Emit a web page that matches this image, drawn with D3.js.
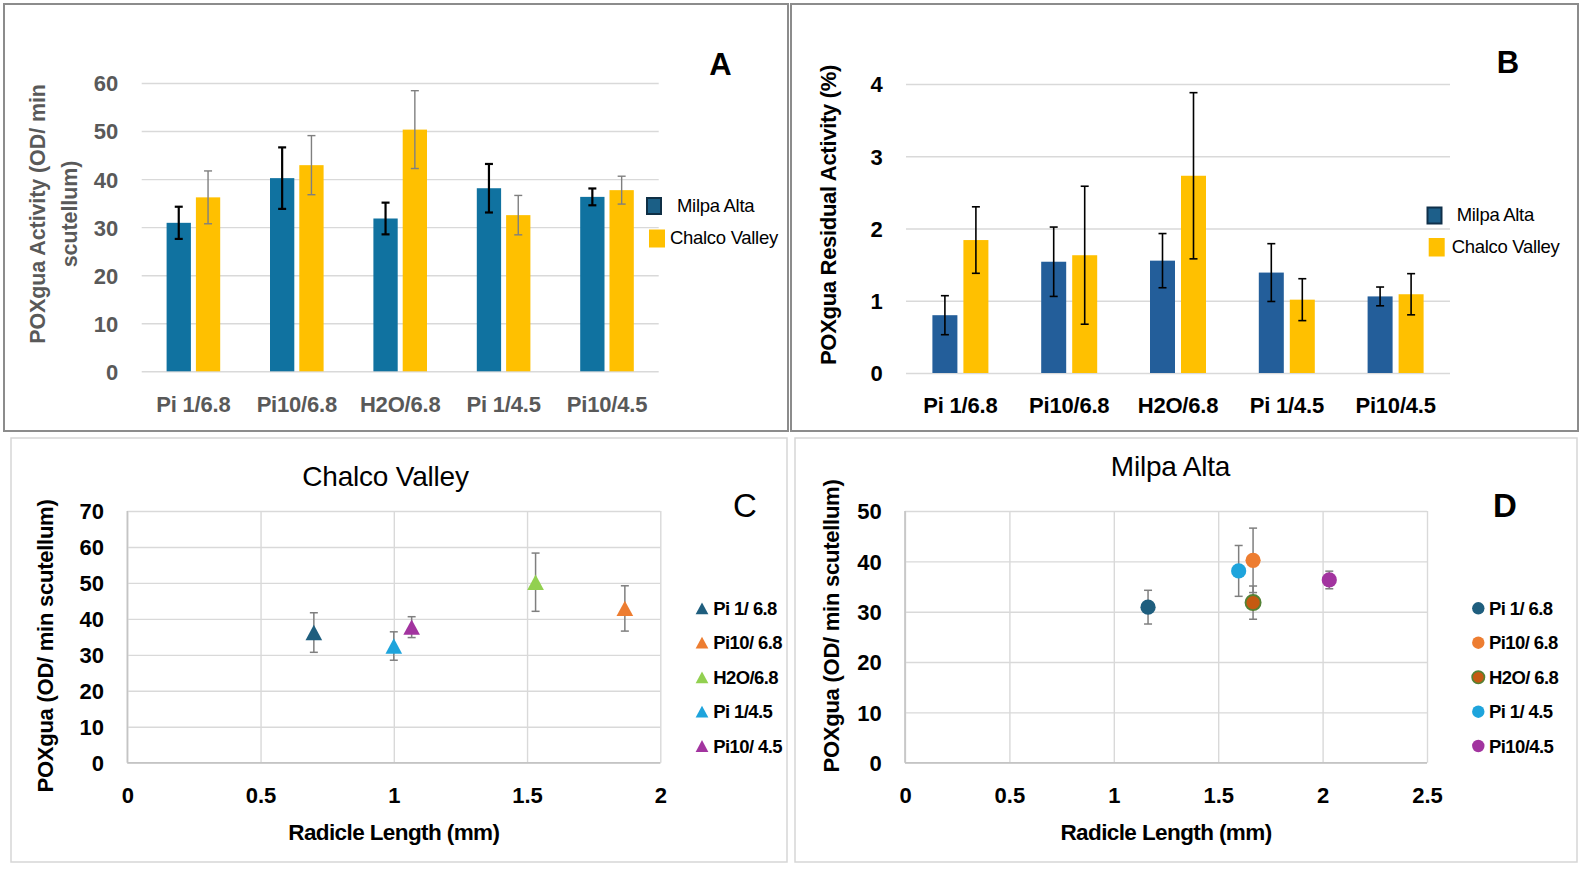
<!DOCTYPE html>
<html><head><meta charset="utf-8">
<script src="https://cdn.jsdelivr.net/npm/d3@7"></script>
<style>
body{margin:0;background:#fff}
svg{display:block}
text{font-family:"Liberation Sans",Arial,Helvetica,sans-serif}
</style>
</head><body>
<svg id="chart" width="1587" height="875"></svg>
<script>
// ---------- data ----------
const categories = ["Pi 1/6.8", "Pi10/6.8", "H2O/6.8", "Pi 1/4.5", "Pi10/4.5"];
const seriesNames = ["Milpa Alta", "Chalco Valley"];

// Panel A: POXgua activity (OD/min scutellum)
const actMilpa     = [30.9, 40.2, 31.8, 38.1, 36.3];
const actMilpaErr  = [3.35, 6.4, 3.3, 5.05, 1.75];
const actChalco    = [36.2, 42.9, 50.3, 32.5, 37.7];
const actChalcoErr = [5.5, 6.15, 8.1, 4.1, 2.9];
const actTicks = [0, 10, 20, 30, 40, 50, 60];

// Panel B: POXgua residual activity (%)
const resMilpa     = [0.80, 1.54, 1.555, 1.39, 1.06];
const resMilpaErr  = [0.27, 0.48, 0.375, 0.40, 0.13];
const resChalco    = [1.84, 1.63, 2.73, 1.015, 1.09];
const resChalcoErr = [0.46, 0.955, 1.15, 0.29, 0.285];
const resTicks = [0, 1, 2, 3, 4];

// Panel C: Chalco Valley scatter
const chalcoNames  = ["Pi 1/ 6.8", "Pi10/ 6.8", "H2O/6.8", "Pi 1/4.5", "Pi10/ 4.5"];
const chalcoX      = [0.70, 1.867, 1.532, 1.00, 1.067];
const chalcoY      = [36.2, 42.9, 50.2, 32.45, 37.7];
const chalcoErr    = [5.5, 6.3, 8.1, 3.95, 2.9];
const chalcoColors = ["#1f5e7e", "#ed7d31", "#92d050", "#1ea4dc", "#a2349f"];
const cXTicks = [0, 0.5, 1, 1.5, 2];
const cYTicks = [0, 10, 20, 30, 40, 50, 60, 70];

// Panel D: Milpa Alta scatter
const milpaNames   = ["Pi 1/ 6.8", "Pi10/ 6.8", "H2O/ 6.8", "Pi 1/ 4.5", "Pi10/4.5"];
const milpaX       = [1.164, 1.667, 1.667, 1.598, 2.032];
const milpaY       = [30.9, 40.2, 31.8, 38.1, 36.3];
const milpaErr     = [3.35, 6.4, 3.3, 5.05, 1.75];
const milpaColors  = ["#1f5e7e", "#ed7d31", "#c55a11", "#1ea4dc", "#a2349f"];
const milpaStroke  = [null, null, "#548235", null, null];
const dXTicks = [0, 0.5, 1, 1.5, 2, 2.5];
const dYTicks = [0, 10, 20, 30, 40, 50];

// ---------- drawing ----------
const svg = d3.select("#chart");
svg.append("rect").attr("width", 1587).attr("height", 875).attr("fill", "#fff");

// panel frames
const frames = [
  {x: 4, y: 4, w: 784, h: 427, c: "#8c8c8c", sw: 2},
  {x: 791, y: 4, w: 787, h: 427, c: "#8c8c8c", sw: 2},
  {x: 11, y: 438, w: 776, h: 424, c: "#d6d6d6", sw: 1.5},
  {x: 795, y: 438, w: 782, h: 424, c: "#d6d6d6", sw: 1.5}
];
svg.selectAll("rect.frame").data(frames).enter().append("rect")
  .attr("class", "frame")
  .attr("x", d => d.x).attr("y", d => d.y).attr("width", d => d.w).attr("height", d => d.h)
  .attr("fill", "none").attr("stroke", d => d.c).attr("stroke-width", d => d.sw);

function styleText(sel, size, weight, color, ls) {
  sel.style("font-family", '"Liberation Sans",Arial,sans-serif')
     .style("font-size", size + "px")
     .style("font-weight", weight)
     .style("letter-spacing", (ls || 0) + "px")
     .attr("fill", color);
}

function errorBars(g, xs, ys, es, color, width, cap) {
  const gg = g.append("g").attr("stroke", color).attr("stroke-width", width).attr("fill", "none");
  xs.forEach((x, i) => {
    gg.append("line").attr("x1", x).attr("x2", x).attr("y1", ys(i, -1)).attr("y2", ys(i, 1));
    gg.append("line").attr("x1", x - cap / 2).attr("x2", x + cap / 2).attr("y1", ys(i, -1)).attr("y2", ys(i, -1));
    gg.append("line").attr("x1", x - cap / 2).attr("x2", x + cap / 2).attr("y1", ys(i, 1)).attr("y2", ys(i, 1));
  });
}

function barPanel(cfg) {
  const g = svg.append("g");
  const y = d3.scaleLinear().domain([0, cfg.max]).range([cfg.bottom, cfg.top]);
  const x = d3.scaleBand().domain(categories).range([cfg.left, cfg.right]);
  const pairW = cfg.barW * 2 + cfg.gap;
  const xs = d3.scaleBand().domain(seriesNames).range([-pairW / 2, pairW / 2])
    .paddingInner(cfg.gap / (cfg.barW + cfg.gap));

  const ya = g.append("g").attr("transform", `translate(${cfg.left},0)`)
    .call(d3.axisLeft(y).tickValues(cfg.ticks).tickFormat(d => String(d))
      .tickSize(-(cfg.right - cfg.left)).tickPadding(cfg.tickPad));
  ya.select(".domain").remove();
  ya.selectAll("line").attr("stroke", "#d9d9d9").attr("stroke-width", 1.4);
  styleText(ya.selectAll("text").attr("dy", "0.36em"), 22, "bold", cfg.tickColor);

  const xa = g.append("g").attr("transform", `translate(0,${cfg.bottom})`)
    .call(d3.axisBottom(x).tickSize(0));
  xa.select(".domain").remove();
  styleText(xa.selectAll("text").attr("dy", null).attr("y", cfg.labelBase - cfg.bottom), 22, "bold", cfg.tickColor, -0.2);

  cfg.series.forEach((s, si) => {
    const off = xs(seriesNames[si]);
    g.append("g").selectAll("rect").data(categories).enter().append("rect")
      .attr("x", c => x(c) + x.bandwidth() / 2 + off)
      .attr("y", (c, i) => y(s.vals[i]))
      .attr("width", xs.bandwidth())
      .attr("height", (c, i) => y(0) - y(s.vals[i]))
      .attr("fill", s.color);
  });
  cfg.series.forEach((s, si) => {
    const off = xs(seriesNames[si]) + xs.bandwidth() / 2;
    const cx = categories.map(c => x(c) + x.bandwidth() / 2 + off);
    errorBars(g, cx, (i, k) => y(s.vals[i] + k * s.errs[i]), s.errs, s.errColor, s.errW, 8);
  });

  // legend
  cfg.legend.forEach((L, i) => {
    g.append("rect").attr("x", L.sx).attr("y", L.sy).attr("width", L.sw).attr("height", L.sh)
      .attr("fill", L.color).attr("stroke", L.stroke || "none").attr("stroke-width", L.stroke ? 2 : 0);
    styleText(g.append("text").attr("x", L.tx).attr("y", L.ty).attr("dy", "0.35em").text(seriesNames[i]), 18.5, "normal", "#000", -0.3);
  });
  return g;
}

// Panel A
const gA = barPanel({
  left: 141.7, right: 658.7, top: 83, bottom: 371.3, max: 60, ticks: actTicks,
  tickPad: 23.4, tickColor: "#595959", labelBase: 412, barW: 24.3, gap: 5,
  series: [
    {vals: actMilpa, errs: actMilpaErr, color: "#1072a0", errColor: "#000", errW: 2.2},
    {vals: actChalco, errs: actChalcoErr, color: "#ffc000", errColor: "#7f7f7f", errW: 1.4}
  ],
  legend: [
    {sx: 647, sy: 198, sw: 14, sh: 16, color: "#1b5f86", stroke: "#0f2f45", tx: 677, ty: 205.5},
    {sx: 649, sy: 229.5, sw: 16, sh: 18, color: "#ffc000", tx: 670, ty: 237.5}
  ]
});
styleText(gA.append("text").attr("transform", "translate(45,214) rotate(-90)").attr("text-anchor", "middle")
  .text("POXgua Activity (OD/ min"), 21.5, "bold", "#595959", -0.1);
styleText(gA.append("text").attr("transform", "translate(77,214) rotate(-90)").attr("text-anchor", "middle")
  .text("scutellum)"), 21.5, "bold", "#595959", -0.1);
styleText(gA.append("text").attr("x", 720.5).attr("y", 75).attr("text-anchor", "middle").text("A"), 31, "bold", "#000");

// Panel B
const gB = barPanel({
  left: 906, right: 1450, top: 84, bottom: 373, max: 4, ticks: resTicks,
  tickPad: 23.3, tickColor: "#000", labelBase: 413, barW: 25, gap: 6,
  series: [
    {vals: resMilpa, errs: resMilpaErr, color: "#235e9a", errColor: "#000", errW: 1.6},
    {vals: resChalco, errs: resChalcoErr, color: "#ffc000", errColor: "#000", errW: 1.6}
  ],
  legend: [
    {sx: 1427.5, sy: 207.5, sw: 14, sh: 16, color: "#1d5f8a", stroke: "#10304a", tx: 1456.7, ty: 215},
    {sx: 1428.7, sy: 238, sw: 16, sh: 18.5, color: "#ffc000", tx: 1451.7, ty: 246.7}
  ]
});
styleText(gB.append("text").attr("transform", "translate(836,215) rotate(-90)").attr("text-anchor", "middle")
  .text("POXgua Residual Activity (%)"), 22, "bold", "#000", -0.3);
styleText(gB.append("text").attr("x", 1508).attr("y", 73.3).attr("text-anchor", "middle").text("B"), 31, "bold", "#000");

// scatter panels
const triangleType = {
  draw(ctx, size) {
    const w = Math.sqrt(size);
    ctx.moveTo(0, -w * 0.48);
    ctx.lineTo(w * 0.52, w * 0.48);
    ctx.lineTo(-w * 0.52, w * 0.48);
    ctx.closePath();
  }
};

function scatterPanel(cfg) {
  const g = svg.append("g");
  const x = d3.scaleLinear().domain([0, cfg.xMax]).range([cfg.left, cfg.right]);
  const y = d3.scaleLinear().domain([0, cfg.yMax]).range([cfg.bottom, cfg.top]);

  const xa = g.append("g").attr("transform", `translate(0,${cfg.bottom})`)
    .call(d3.axisBottom(x).tickValues(cfg.xTicks).tickSize(-(cfg.bottom - cfg.top)).tickFormat(d => String(d)));
  xa.select(".domain").remove();
  xa.selectAll("line").attr("stroke", "#d9d9d9").attr("stroke-width", 1.4);
  styleText(xa.selectAll("text").attr("dy", null).attr("y", cfg.xLabelBase - cfg.bottom), 22, "bold", "#000");

  const ya = g.append("g").attr("transform", `translate(${cfg.left},0)`)
    .call(d3.axisLeft(y).tickValues(cfg.yTicks).tickFormat(d => String(d))
      .tickSize(-(cfg.right - cfg.left)).tickPadding(23.3));
  ya.select(".domain").remove();
  ya.selectAll("line").attr("stroke", "#d9d9d9").attr("stroke-width", 1.4);
  styleText(ya.selectAll("text").attr("dy", "0.36em"), 22, "bold", "#000");

  // axis lines (slightly darker)
  g.append("line").attr("x1", x(0)).attr("x2", x(cfg.xMax)).attr("y1", y(0)).attr("y2", y(0))
    .attr("stroke", "#c4c4c4").attr("stroke-width", 1.6);
  g.append("line").attr("x1", x(0)).attr("x2", x(0)).attr("y1", y(0)).attr("y2", y(cfg.yMax))
    .attr("stroke", "#c4c4c4").attr("stroke-width", 1.6);

  // error bars
  errorBars(g, cfg.xs.map(v => x(v)), (i, k) => y(cfg.ys[i] + k * cfg.errs[i]), cfg.errs, "#7f7f7f", 1.5, 8);

  // markers
  const sym = d3.symbol().type(cfg.shape === "tri" ? triangleType : d3.symbolCircle);
  g.append("g").selectAll("path").data(cfg.xs).enter().append("path")
    .attr("transform", (d, i) => `translate(${x(d)},${y(cfg.ys[i])})`)
    .attr("d", sym.size(cfg.shape === "tri" ? 256 : Math.PI * 7.6 * 7.6)())
    .attr("fill", (d, i) => cfg.colors[i])
    .attr("stroke", (d, i) => (cfg.strokes && cfg.strokes[i]) || "none")
    .attr("stroke-width", 1.8);

  // legend
  const rowsY = [608.3, 642.7, 677.3, 711.7, 746];
  const symL = d3.symbol().type(cfg.shape === "tri" ? triangleType : d3.symbolCircle)
    .size(cfg.shape === "tri" ? 150 : Math.PI * 6.2 * 6.2);
  cfg.names.forEach((n, i) => {
    g.append("path").attr("transform", `translate(${cfg.legX},${rowsY[i]})`).attr("d", symL())
      .attr("fill", cfg.colors[i]).attr("stroke", (cfg.strokes && cfg.strokes[i]) || "none").attr("stroke-width", 1.6);
    styleText(g.append("text").attr("x", cfg.legTX).attr("y", rowsY[i]).attr("dy", "0.36em").text(n), 18.5, "bold", "#000", -0.6);
  });

  // titles
  styleText(g.append("text").attr("x", (cfg.left + cfg.right) / 2).attr("y", 840).attr("text-anchor", "middle")
    .text("Radicle Length (mm)"), 22.5, "bold", "#000", -0.6);
  styleText(g.append("text").attr("transform", `translate(${cfg.yTitleX},${cfg.yTitleY}) rotate(-90)`).attr("text-anchor", "middle")
    .text("POXgua (OD/ min scutellum)"), 22, "bold", "#000", -0.25);
  styleText(g.append("text").attr("x", cfg.titleX).attr("y", cfg.titleY).attr("text-anchor", "middle")
    .text(cfg.title), 28, "normal", "#000", -0.2);
  styleText(g.append("text").attr("x", cfg.letterX).attr("y", 517).attr("text-anchor", "middle")
    .text(cfg.letter), 33, cfg.letterWeight, "#000");
  return g;
}

scatterPanel({
  left: 127.3, right: 660.3, top: 511, bottom: 762.7, xMax: 2, yMax: 70,
  xTicks: cXTicks, yTicks: cYTicks, xLabelBase: 802.7,
  xs: chalcoX, ys: chalcoY, errs: chalcoErr, colors: chalcoColors, names: chalcoNames,
  shape: "tri", legX: 702, legTX: 713.3,
  yTitleX: 53, yTitleY: 646, title: "Chalco Valley", titleX: 385.5, titleY: 486,
  letter: "C", letterX: 745, letterWeight: "normal"
});

scatterPanel({
  left: 905, right: 1427, top: 511, bottom: 762.7, xMax: 2.5, yMax: 50,
  xTicks: dXTicks, yTicks: dYTicks, xLabelBase: 802.7,
  xs: milpaX, ys: milpaY, errs: milpaErr, colors: milpaColors, strokes: milpaStroke, names: milpaNames,
  shape: "circle", legX: 1478.3, legTX: 1489,
  yTitleX: 839, yTitleY: 626, title: "Milpa Alta", titleX: 1170.5, titleY: 476,
  letter: "D", letterX: 1505, letterWeight: "bold"
});
</script>
</body></html>
